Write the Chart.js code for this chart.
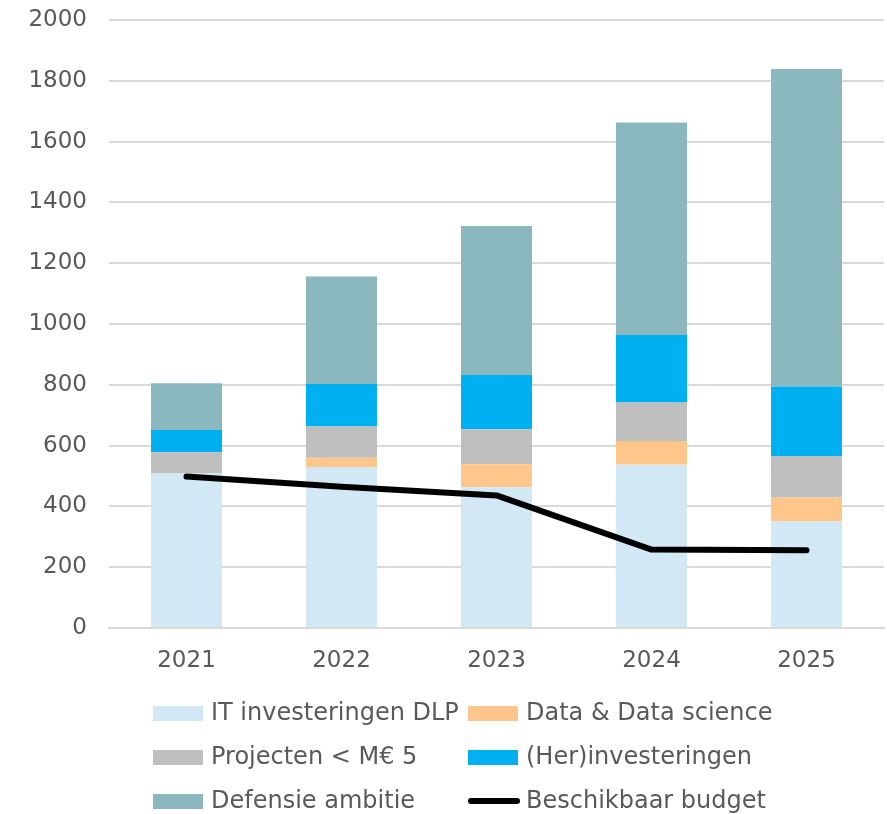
<!DOCTYPE html>
<html>
<head>
<meta charset="utf-8">
<script src="https://cdn.jsdelivr.net/npm/chart.js@4.4.1/dist/chart.umd.min.js"></script>
<style>
  html, body { margin: 0; padding: 0; background: #ffffff; }
  #wrap { width: 887px; height: 814px; }
</style>
</head>
<body>
<div id="wrap"><canvas id="budgetChart" width="887" height="814"></canvas></div>
<script>
// --- Data ---
const years = ['2021', '2022', '2023', '2024', '2025'];
const itDlp = [508, 530, 463, 537, 350];
const dataScience = [0, 30, 76, 78, 79];
const projecten = [70, 103, 115, 127, 137];
const herInvesteringen = [73, 140, 178, 222, 228];
const defensieAmbitie = [154, 353, 490, 699, 1045];
const beschikbaarBudget = [498, 465, 436, 258, 256];
const yTicks = [0, 200, 400, 600, 800, 1000, 1200, 1400, 1600, 1800, 2000];

const textColor = '#595959';
const fontFamily = '"DejaVu Sans", Verdana, sans-serif';
const fontSize = 23;
const legendFontSize = 24;

// --- Legend drawn as a two column grid, like the original ---
const gridLegend = {
    id: 'gridLegend',
    afterDraw(chart) {
        const ctx = chart.ctx;
        const cols = [153, 468];
        const rows = [713, 757, 801];
        ctx.save();
        ctx.font = legendFontSize + 'px ' + fontFamily;
        ctx.textBaseline = 'middle';
        chart.data.datasets.forEach((ds, i) => {
            const x = cols[i % 2];
            const y = rows[Math.floor(i / 2)];
            if (ds.type === 'line') {
                ctx.strokeStyle = ds.borderColor;
                ctx.lineWidth = 6;
                ctx.lineCap = 'round';
                ctx.beginPath();
                ctx.moveTo(x + 3, y);
                ctx.lineTo(x + 49, y);
                ctx.stroke();
            } else {
                ctx.fillStyle = ds.backgroundColor;
                ctx.fillRect(x, y - 7, 50, 15);
            }
            ctx.fillStyle = textColor;
            ctx.fillText(ds.label, x + 58, y + 1);
        });
        ctx.restore();
    }
};

const ctx = document.getElementById('budgetChart').getContext('2d');
new Chart(ctx, {
    data: {
        labels: years,
        datasets: [
            { type: 'bar', label: 'IT investeringen DLP', data: itDlp, backgroundColor: '#D2E9F5', stack: 'kosten', order: 1 },
            { type: 'bar', label: 'Data & Data science', data: dataScience, backgroundColor: '#FFC68B', stack: 'kosten', order: 1 },
            { type: 'bar', label: 'Projecten < M€ 5', data: projecten, backgroundColor: '#BFBFBF', stack: 'kosten', order: 1 },
            { type: 'bar', label: '(Her)investeringen', data: herInvesteringen, backgroundColor: '#00B0F0', stack: 'kosten', order: 1 },
            { type: 'bar', label: 'Defensie ambitie', data: defensieAmbitie, backgroundColor: '#8BB8BE', stack: 'kosten', order: 1 },
            {
                type: 'line', label: 'Beschikbaar budget', data: beschikbaarBudget,
                borderColor: '#000000', backgroundColor: '#000000', borderWidth: 6,
                borderCapStyle: 'round', borderJoinStyle: 'round',
                pointRadius: 0, tension: 0, fill: false, stack: 'budget', order: 0
            }
        ]
    },
    options: {
        responsive: false,
        animation: false,
        layout: { padding: { top: 20, right: 3, left: 0, bottom: 0 } },
        datasets: { bar: { barPercentage: 0.458, categoryPercentage: 1 } },
        plugins: {
            legend: { display: false },
            tooltip: { enabled: false }
        },
        scales: {
            x: {
                stacked: true,
                grid: { display: false, drawTicks: false },
                border: { display: true, color: '#D9D9D9', width: 2 },
                ticks: { color: textColor, font: { family: fontFamily, size: fontSize }, padding: 19 },
                afterFit(scale) { scale.height = 186; scale.paddingLeft = 0; scale.paddingRight = 0; }
            },
            y: {
                stacked: true,
                min: 0,
                max: 2000,
                afterBuildTicks(scale) { scale.ticks = yTicks.map(v => ({ value: v })); },
                grid: { color: '#D9D9D9', lineWidth: 2, drawTicks: false },
                border: { display: false },
                ticks: {
                    color: textColor, font: { family: fontFamily, size: fontSize }, padding: 22,
                    callback: (v) => String(v)
                },
                afterFit(scale) { scale.width = 109; scale.paddingTop = 0; scale.paddingBottom = 0; }
            }
        }
    },
    plugins: [gridLegend]
});
</script>
</body>
</html>
